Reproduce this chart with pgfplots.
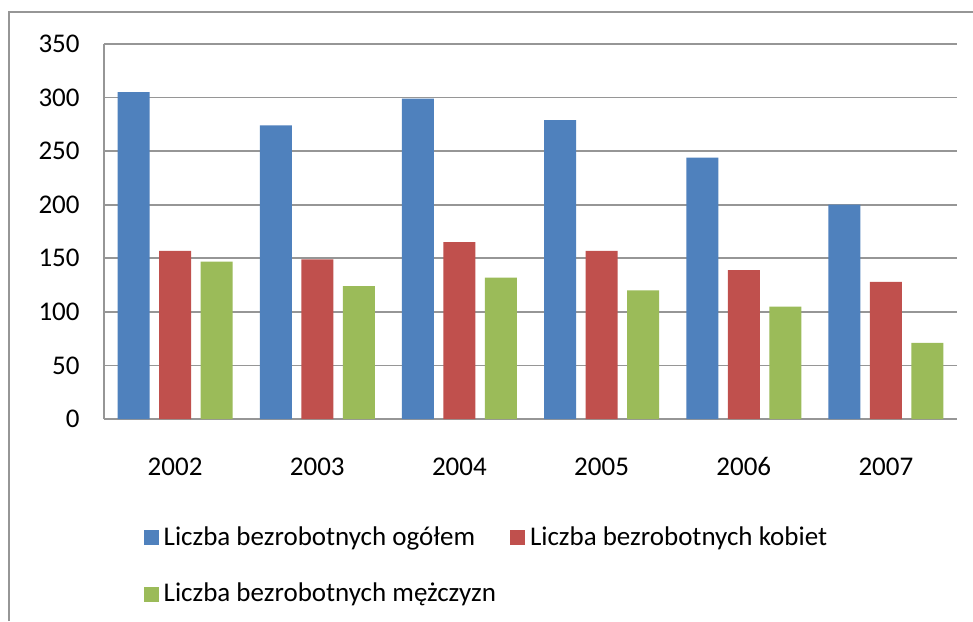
\documentclass[border=0pt]{standalone}
\usepackage{pgfplots}
\pgfplotsset{compat=1.18}
\usepackage{fontspec}
\setmainfont{Carlito}
\definecolor{cblue}{RGB}{79,129,189}
\definecolor{cred}{RGB}{192,80,77}
\definecolor{cgreen}{RGB}{155,187,89}
\definecolor{gridc}{RGB}{150,150,150}
\pgfplotsset{sqlegend/.style={legend image code/.code={\fill[##1] (0pt,-3.75pt) rectangle (7.5pt,3.75pt);}}}
\begin{document}
\fontsize{13.5pt}{16pt}\selectfont
\begin{tikzpicture}
\useasboundingbox (-52pt,-101pt) rectangle (434.5pt,209.5pt);
\fill[white] (-52pt,-101pt) rectangle (434.5pt,209.5pt);
\draw[gridc, line width=1pt] (-47.5pt,-101pt) -- (-47.5pt,203.5pt) -- (434.5pt,203.5pt);
\begin{axis}[
  at={(0pt,0pt)}, anchor=south west,
  width=426.5pt, height=187.5pt, scale only axis,
  ybar=4.75pt, bar width=16pt,
  ymin=0, ymax=350, ytick={0,50,...,350},
  xmin=-0.5, xmax=5.5, xtick={0,1,2,3,4,5},
  xticklabels={2002,2003,2004,2005,2006,2007},
  axis lines=left, axis line style={-, gridc, line width=0.8pt},
  ymajorgrids, grid style={gridc, line width=0.9pt},
  major tick length=0pt,
  /pgf/number format/assume math mode=true,
  tick label style={font=\fontsize{13.5pt}{16pt}\selectfont, inner sep=0pt},
  yticklabel style={xshift=-12pt},
  xticklabel style={yshift=-18.5pt, anchor=north, text height=9.5pt, text depth=0pt},
  legend columns=2,
  legend cell align=left,
  legend style={draw=none, fill=none, at={(0.039,-0.269)}, anchor=north west,
    font=\fontsize{13.5pt}{16pt}\selectfont,
    nodes={inner sep=1pt},
    /tikz/every odd column/.append style={column sep=1.5pt},
    /tikz/every even column/.append style={column sep=6pt},
    row sep=15pt},
]
\addplot[fill=cblue, draw=none, sqlegend] coordinates {(0,305) (1,274) (2,299) (3,279) (4,244) (5,200)};
\addplot[fill=cred, draw=none, sqlegend] coordinates {(0,157) (1,149) (2,165) (3,157) (4,139) (5,128)};
\addplot[fill=cgreen, draw=none, sqlegend] coordinates {(0,147) (1,124) (2,132) (3,120) (4,105) (5,71)};
\legend{Liczba bezrobotnych ogółem, Liczba bezrobotnych kobiet, Liczba bezrobotnych mężczyzn}
\end{axis}
\end{tikzpicture}
\end{document}
